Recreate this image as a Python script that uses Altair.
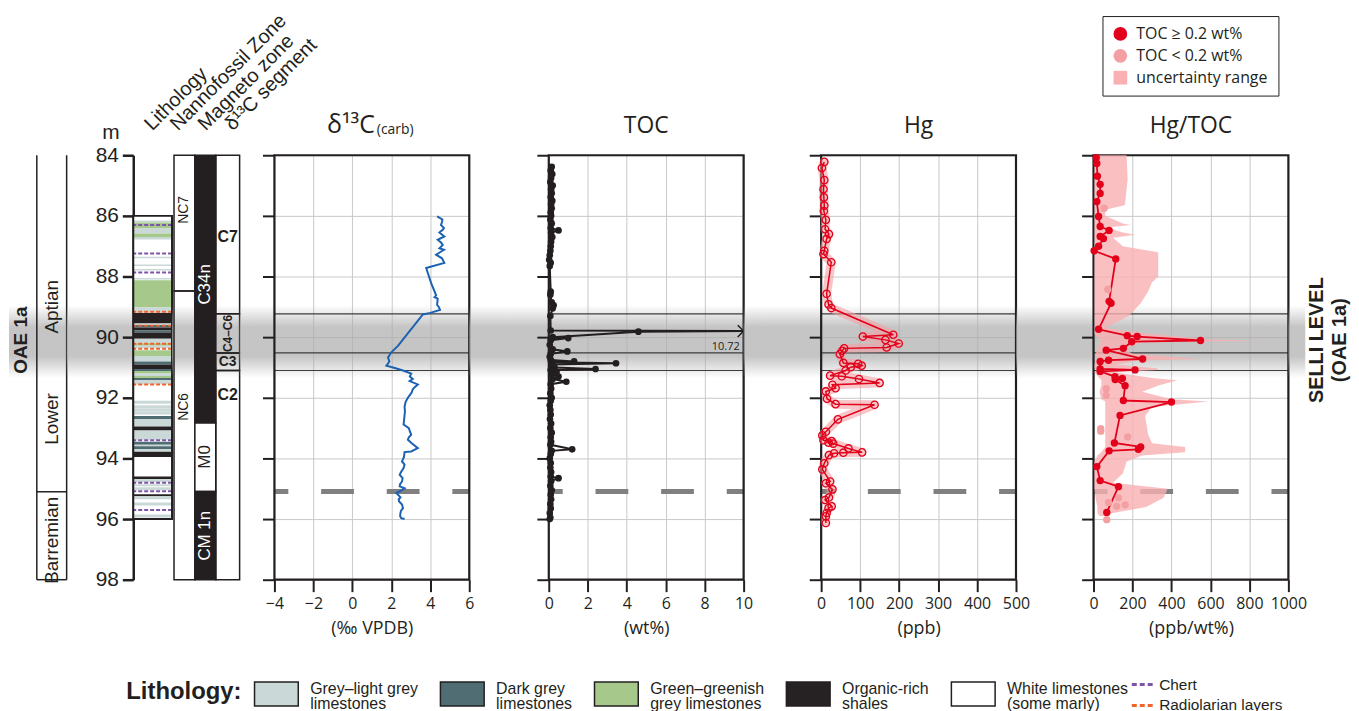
import altair as alt
import pandas as pd

# ---------------- depth frame ----------------
DEPTH_DOMAIN = [84, 98]
DEPTH_TICKS = [84, 86, 88, 90, 92, 94, 96, 98]

SELLI_BAND = [88.95, 91.35]          # grey band (Selli level, OAE 1a)
SEGMENT_LINES = [89.23, 90.52, 91.10]
DASHED_LEVEL = [95.09]
SELLI_TEXT = ["SELLI LEVEL", "(OAE 1a)"]
SELLI_TEXT_DEPTH = [90.1, 90.1]

# ---------------- stratigraphic columns ----------------
STAGE_BOUNDS = [95.1, 98.0]
STAGE_LABELS = ["Aptian", "Lower", "Barremian"]
STAGE_LABEL_DEPTH = [89.0, 92.7, 96.7]
OAE_LABEL = ["OAE 1a"]
OAE_LABEL_DEPTH = [90.1]

NANNO_TOP = [84.0, 88.48]
NANNO_BOT = [88.48, 98.0]
NANNO_NAME = ["NC7", "NC6"]
NANNO_LABEL_DEPTH = [85.8, 92.3]

MAG_TOP = [84.0, 92.83, 95.09]
MAG_BOT = [92.83, 95.09, 98.0]
MAG_NAME = ["C34n", "M0", "CM 1n"]
MAG_POLARITY = ["normal", "reversed", "normal"]
MAG_LABEL_DEPTH = [88.26, 93.95, 96.55]

SEG_TOP = [84.0, 89.23, 90.52, 91.10]
SEG_BOT = [89.23, 90.52, 91.10, 98.0]
SEG_NAME = ["C7", "C4–C6", "C3", "C2"]
SEG_LABEL_DEPTH = [86.7, 89.88, 90.81, 91.9]

HEADERS = ["Lithology", "Nannofossil Zone", "Magneto zone", "δ¹³C segment"]

LITH_NAMES = ["Grey–light grey|limestones", "Dark grey|limestones",
              "Green–greenish|grey limestones", "Organic-rich|shales",
              "White limestones|(some marly)"]
LITH_CODES = ["G", "D", "Gr", "O", "W"]
LITH_TOP = [86.00, 86.15, 86.22, 86.42, 86.58, 86.70, 87.35, 87.60, 87.75, 88.05,
            88.12, 89.02, 89.20, 89.55, 89.60, 89.68, 89.78, 89.85, 90.05, 90.20,
            90.28, 90.43, 90.62, 90.80, 90.90, 91.05, 91.12, 91.20, 91.28, 91.35,
            91.42, 92.10, 92.25, 92.35, 92.45, 92.60, 92.70, 92.95, 93.08, 93.45,
            93.55, 93.60, 93.70, 93.78, 94.60, 94.68, 94.85, 94.95, 95.18, 95.25,
            95.45, 95.85]
LITH_BOT = [96.00, 86.22, 86.42, 86.58, 86.70, 86.78, 87.40, 87.65, 87.80, 88.10,
            89.02, 89.20, 89.55, 89.60, 89.68, 89.78, 89.85, 90.05, 90.20, 90.28,
            90.36, 90.62, 90.80, 90.90, 91.05, 91.12, 91.20, 91.28, 91.35, 91.42,
            91.55, 92.20, 92.35, 92.45, 92.55, 92.70, 92.95, 93.08, 93.38, 93.55,
            93.60, 93.70, 93.78, 93.95, 94.68, 94.78, 94.92, 95.05, 95.25, 95.35,
            95.55, 95.95]
LITH_TYPE = ["W", "G", "Gr", "G", "Gr", "G", "G", "G", "G", "G",
             "Gr", "G", "O", "G", "D", "O", "D", "O", "G", "Gr",
             "G", "Gr", "G", "D", "O", "D", "Gr", "G", "Gr", "D",
             "G", "G", "G", "G", "G", "D", "G", "O", "G", "D",
             "G", "D", "G", "O", "O", "G", "G", "G", "O", "G",
             "G", "G"]
LAYER_KINDS = ["Chert", "Radiolarian layers"]
LAYER_DEPTH = [86.30, 87.24, 87.87, 89.16, 89.62, 90.22, 90.38, 91.56, 93.40, 94.80, 95.08, 95.70]
LAYER_KIND = ["Chert", "Chert", "Chert", "Radiolarian layers", "Radiolarian layers",
              "Radiolarian layers", "Radiolarian layers", "Radiolarian layers",
              "Chert", "Chert", "Chert", "Chert"]

# ---------------- geochemistry ----------------
D13C_DEPTH = [86.02, 86.12, 86.20, 86.30, 86.40, 86.46, 86.55, 86.68, 86.79, 86.88,
              86.96, 87.07, 87.12, 87.20, 87.28, 87.40, 87.55, 87.72, 88.21, 88.62,
              88.68, 88.73, 88.93, 89.02, 89.10, 89.20, 89.25, 90.29, 90.50, 90.67,
              90.80, 90.90, 90.94, 91.00, 91.10, 91.20, 91.30, 91.38, 91.45, 91.56,
              91.65, 91.72, 91.82, 91.92, 92.00, 92.14, 92.30, 92.45, 92.57, 92.70,
              92.88, 93.00, 93.10, 93.22, 93.30, 93.38, 93.50, 93.66, 93.77, 93.79,
              93.95, 94.10, 94.20, 94.32, 94.45, 94.54, 94.65, 94.76, 94.85, 94.92,
              94.98, 95.06, 95.14, 95.28, 95.35, 95.42, 95.52, 95.64, 95.72, 95.80,
              95.90, 95.97, 96.00]
D13C_VALUE = [4.35, 4.62, 4.60, 4.55, 4.70, 4.64, 4.47, 4.72, 4.38, 4.55,
              4.64, 4.47, 4.70, 4.50, 4.30, 4.60, 4.72, 3.79, 4.04, 4.30,
              4.22, 4.38, 4.35, 4.45, 4.50, 4.00, 3.62, 2.34, 2.00, 1.83,
              1.90, 1.80, 1.75, 2.09, 2.60, 3.02, 2.95, 3.10, 2.94, 3.36,
              3.20, 3.10, 3.05, 2.94, 2.85, 2.73, 2.68, 2.70, 2.68, 2.66,
              2.63, 2.90, 2.95, 3.02, 2.90, 2.85, 3.05, 3.36, 3.02, 2.68,
              2.65, 2.55, 2.68, 2.63, 2.50, 2.43, 2.58, 2.55, 2.45, 2.43,
              2.68, 2.50, 2.26, 2.47, 2.38, 2.40, 2.55, 2.60, 2.50, 2.47,
              2.45, 2.51, 2.68]

TOC_DEPTH = [84.38, 84.50, 84.62, 84.75, 84.88, 85.00, 85.12, 85.25, 85.38, 85.50,
             85.62, 85.75, 85.88, 86.00, 86.12, 86.25, 86.40, 86.48, 86.55, 86.70,
             86.85, 87.00, 87.15, 87.30, 87.45, 87.55, 87.65, 88.50, 88.60, 88.85,
             88.95, 89.05, 89.30, 89.78, 89.80, 89.82, 90.00, 90.03, 90.10, 90.25,
             90.40, 90.47, 90.55, 90.65, 90.75, 90.80, 90.83, 90.86, 90.90, 91.00,
             91.05, 91.08, 91.15, 91.22, 91.30, 91.38, 91.47, 91.55, 91.70, 91.85,
             92.00, 92.10, 92.25, 92.40, 92.55, 92.70, 92.85, 93.00, 93.15, 93.30,
             93.45, 93.55, 93.70, 93.75, 93.85, 94.00, 94.15, 94.30, 94.45, 94.60,
             94.65, 94.75, 94.90, 95.05, 95.20, 95.35, 95.50, 95.65, 95.80, 95.95,
             96.00]
TOC_VALUE = [0.15, 0.10, 0.18, 0.12, 0.08, 0.20, 0.12, 0.15, 0.10, 0.18,
             0.12, 0.15, 0.10, 0.12, 0.08, 0.15, 0.10, 0.50, 0.12, 0.18,
             0.12, 0.10, 0.08, 0.05, 0.02, 0.10, 0.05, 0.10, 0.08, 0.15,
             0.25, 0.20, 0.08, 0.10, 10.72, 4.60, 0.20, 1.00, 0.10, 0.05,
             0.20, 0.95, 0.10, 0.05, 0.10, 1.30, 0.20, 3.45, 0.15, 0.30,
             2.40, 0.10, 0.40, 0.15, 0.50, 0.20, 0.90, 0.10, 0.12, 0.08,
             0.15, 0.10, 0.05, 0.08, 0.10, 0.06, 0.12, 0.08, 0.15, 0.10,
             0.12, 0.08, 1.20, 0.15, 0.10, 0.05, 0.10, 0.08, 0.12, 0.10,
             0.50, 0.12, 0.08, 0.15, 0.10, 0.12, 0.08, 0.10, 0.05, 0.08,
             0.05]

HG_DEPTH = [84.22, 84.42, 84.82, 85.12, 85.39, 85.66, 85.84, 86.13, 86.44, 86.60,
            86.76, 87.15, 87.26, 87.53, 88.57, 88.92, 89.04, 89.92, 89.98, 90.09,
            90.21, 90.34, 90.37, 90.45, 90.56, 90.85, 90.88, 90.94, 90.99, 91.10,
            91.27, 91.29, 91.38, 91.51, 91.57, 91.68, 91.79, 92.03, 92.21, 92.23,
            92.71, 93.12, 93.24, 93.40, 93.43, 93.48, 93.51, 93.67, 93.80, 93.81,
            93.83, 93.89, 94.16, 94.36, 94.76, 94.82, 95.02, 95.29, 95.37, 95.58,
            95.64, 95.80, 95.91, 96.13]
HG_VALUE = [8, 2, 8, 6, 7, 8, 7, 12, 10, 20,
            14, 8, 6, 26, 14, 19, 26, 185, 107, 165,
            199, 168, 59, 54, 48, 57, 95, 104, 76, 63,
            23, 53, 97, 150, 29, 37, 12, 15, 37, 137,
            43, 12, 3, 6, 27, 19, 31, 70, 105, 57,
            33, 20, 8, 3, 23, 12, 29, 20, 10, 27,
            19, 14, 12, 12]

HGTOC_CLASSES = ["TOC ≥ 0.2 wt%", "TOC < 0.2 wt%", "uncertainty range"]
HGTOC_DEPTH = [84.08, 84.27, 84.69, 84.96, 85.26, 85.53, 86.02, 86.35, 86.48, 86.68,
               86.75, 87.00, 87.15, 87.42, 88.82, 88.88, 89.74, 89.95, 89.98, 90.11,
               90.15, 90.37, 90.43, 90.72, 90.76, 90.80, 91.05, 91.08, 91.13, 91.30,
               91.36, 91.40, 91.60, 92.09, 92.14, 92.58, 93.49, 93.62, 93.70, 93.75,
               94.27, 94.73, 94.93, 95.78]
HGTOC_VALUE = [14, 17, 20, 34, 34, 17, 26, 34, 80, 34,
               51, 26, 3, 114, 80, 90, 26, 173, 224, 549,
               196, 153, 65, 252, 77, 34, 34, 213, 34, 110,
               148, 111, 162, 153, 400, 136, 107, 242, 230, 80,
               17, 34, 128, 68]
HGTOC_LOWTOC_DEPTH = [85.75, 88.43, 91.70, 91.92, 93.02, 93.10, 93.29, 95.30, 95.45, 95.53, 95.58, 96.02]
HGTOC_LOWTOC_VALUE = [54, 73, 65, 65, 37, 37, 175, 128, 77, 162, 119, 68]

UNC_DEPTH = [84.0, 84.8, 85.4, 85.65, 85.8, 86.0, 86.25, 86.3, 86.38, 86.55,
             86.62, 86.72, 87.0, 87.2, 88.0, 88.2, 88.5, 88.9, 89.3, 89.7,
             89.9, 90.08, 90.11, 90.18, 90.4, 90.55, 90.72, 90.78, 90.9, 91.03,
             91.08, 91.15, 91.35, 91.42, 91.6, 91.8, 92.05, 92.12, 92.3, 92.6,
             93.2, 93.5, 93.62, 93.8, 93.9, 94.1, 94.5, 94.8, 95.0, 95.3,
             95.6, 95.8, 95.9]
UNC_LO = [5, 5, 5, 5, 5, 5, 5, 5, 5, 5,
          5, 5, 5, 5, 5, 5, 5, 5, 5, 5,
          5, 30, 40, 30, 20, 10, 20, 10, 5, 5,
          20, 5, 30, 40, 40, 30, 40, 60, 60, 60,
          60, 60, 60, 40, 20, 5, 5, 5, 5, 10,
          20, 20, 30]
UNC_HI = [170, 175, 165, 160, 60, 60, 150, 190, 70, 150,
          215, 100, 150, 332, 332, 300, 280, 240, 180, 60,
          300, 600, 850, 250, 160, 200, 550, 220, 120, 330,
          330, 100, 300, 430, 330, 250, 400, 590, 300, 265,
          280, 300, 470, 470, 250, 170, 150, 100, 380, 360,
          270, 100, 60]

PANEL_TITLES = ["δ¹³C", "(carb)", "TOC", "Hg", "Hg/TOC"]
X_TITLES = ["(‰ VPDB)", "(wt%)", "(ppb)", "(ppb/wt%)"]

# ---------------- styles ----------------
INK = "#231f20"
GRID = "#c9c9c9"
BLUE = "#1b62b3"
RED = "#e2001a"
PINK = "#f4a0a3"
AREA_PINK = "#f9b0b2"
DASH_GREY = "#808080"
CHERT = "#7d55a8"
RADIO = "#f0632a"
LITH_COLORS = ["#cad8d7", "#4f6d72", "#a6c98b", "#262223", "#ffffff"]
FONT = "Open Sans"
HELV = "Liberation Sans"
H = 427
PW = 196

yscale = alt.Scale(domain=DEPTH_DOMAIN, reverse=True, nice=False, zero=False)


def Y(field, axis=None):
    return alt.Y(f"{field}:Q", scale=yscale, axis=axis)


BAND_FILL = alt.LinearGradient(
    gradient="linear", x1=0, x2=0, y1=0, y2=1,
    stops=[alt.GradientStop(offset=0, color="rgba(172,172,172,0)"),
           alt.GradientStop(offset=0.3, color="rgba(172,172,172,0.7)"),
           alt.GradientStop(offset=0.7, color="rgba(172,172,172,0.7)"),
           alt.GradientStop(offset=1, color="rgba(172,172,172,0)")])
band_df = pd.DataFrame({"top": [SELLI_BAND[0]], "bot": [SELLI_BAND[1]]})
frame_df = pd.DataFrame({"top": [DEPTH_DOMAIN[0]], "bot": [DEPTH_DOMAIN[1]]})


def band(axis=None):
    return alt.Chart(band_df).mark_rect(fill=BAND_FILL).encode(y=Y("top", axis), y2="bot:Q")


def gap(w):
    return band().properties(width=w, height=H)


def text_df(labels, depths):
    return pd.DataFrame({"label": labels, "depth": depths})


# ---------- left: OAE label + stage column ----------
v_oae = alt.layer(
    band(),
    alt.Chart(text_df(OAE_LABEL, OAE_LABEL_DEPTH)).mark_text(
        angle=270, font=HELV, fontSize=19, fontWeight="bold", color=INK
    ).encode(x=alt.value(12), y=Y("depth"), text="label:N"),
).properties(width=28, height=H)

col_df = pd.DataFrame({"top": [DEPTH_DOMAIN[0]], "bot": [DEPTH_DOMAIN[1]]})
v_stage = alt.layer(
    band(),
    alt.Chart(col_df).mark_rule(color=INK, strokeWidth=1.5).encode(x=alt.value(0), y=Y("top"), y2="bot:Q"),
    alt.Chart(col_df).mark_rule(color=INK, strokeWidth=1.5).encode(x=alt.value(30), y=Y("top"), y2="bot:Q"),
    alt.Chart(pd.DataFrame({"depth": STAGE_BOUNDS})).mark_rule(color=INK, strokeWidth=1.5).encode(y=Y("depth")),
    alt.Chart(text_df(STAGE_LABELS, STAGE_LABEL_DEPTH)).mark_text(
        angle=270, font=HELV, fontSize=19, color=INK
    ).encode(x=alt.value(15), y=Y("depth"), text="label:N"),
).properties(width=30, height=H)

# ---------- lithology column ----------
code2name = dict(zip(LITH_CODES, LITH_NAMES))
lith_df = pd.DataFrame({"top": LITH_TOP, "bot": LITH_BOT,
                        "lith": [code2name[c] for c in LITH_TYPE]})
layer_df = pd.DataFrame({"depth": LAYER_DEPTH, "kind": LAYER_KIND})
lith_outline = pd.DataFrame({"top": [min(LITH_TOP)], "bot": [max(LITH_BOT)]})

depth_axis = alt.Axis(values=DEPTH_TICKS, title="m", titleAngle=0, titleX=-23, titleY=-17,
                      titleAlign="center", titleBaseline="alphabetic", titleFont=HELV,
                      titleFontSize=21, titleFontWeight="normal", titleColor=INK,
                      labelFont=HELV, labelFontSize=21, labelColor=INK, labelPadding=4,
                      tickSize=11, tickWidth=2.5, tickColor=INK, domainColor=INK,
                      domainWidth=2.5, grid=False)

lith_legend = alt.Legend(
    orient="none", legendX=-7, legendY=519, direction="horizontal",
    title="Lithology:", titleOrient="left", titleAnchor="middle", titleBaseline="middle",
    titleFont=HELV, titleFontSize=24, titleFontWeight="bold", titleColor=INK, titlePadding=12,
    labelFont=HELV, labelFontSize=16, labelColor=INK, labelExpr="split(datum.label, '|')",
    labelBaseline="alphabetic", labelLimit=300, labelOffset=11,
    symbolType="M-1,-0.545H1V0.545H-1Z", symbolSize=1936,
    symbolStrokeColor=INK, symbolStrokeWidth=1.5, symbolOpacity=1, columnPadding=19, padding=0)
layer_legend = alt.Legend(
    orient="none", legendX=1003, legendY=520, direction="vertical", title=None,
    labelFont=HELV, labelFontSize=15.5, labelColor=INK, labelOffset=4, rowPadding=-10,
    symbolType="stroke", symbolSize=484, symbolDash=[5, 3], symbolStrokeWidth=3, padding=0)

header_style = dict(angle=315, align="left", baseline="alphabetic", font=HELV, fontSize=20, color=INK)


def header(i, xoff):
    return alt.Chart(pd.DataFrame({"label": [HEADERS[i]]})).mark_text(**header_style).encode(
        x=alt.value(xoff), y=alt.value(-24), text="label:N")


v_lith = alt.layer(
    alt.Chart(lith_df).mark_rect().encode(
        y=Y("top", depth_axis), y2="bot:Q",
        color=alt.Color("lith:N", scale=alt.Scale(domain=LITH_NAMES, range=LITH_COLORS), legend=lith_legend)),
    alt.Chart(layer_df).mark_rule(strokeDash=[4, 2], strokeWidth=2).encode(
        y=Y("depth", depth_axis),
        stroke=alt.Stroke("kind:N", scale=alt.Scale(domain=LAYER_KINDS, range=[CHERT, RADIO]), legend=layer_legend)),
    alt.Chart(lith_outline).mark_rect(filled=False, stroke=INK, strokeWidth=2).encode(y=Y("top", depth_axis), y2="bot:Q"),
    header(0, 19),
).properties(width=39, height=H)

# ---------- nannofossil, magneto, segment columns ----------
nanno_df = pd.DataFrame({"top": NANNO_TOP, "bot": NANNO_BOT})
v_nanno = alt.layer(
    band(),
    alt.Chart(nanno_df).mark_rect(filled=False, stroke=INK, strokeWidth=1.5).encode(y=Y("top"), y2="bot:Q"),
    alt.Chart(text_df(NANNO_NAME, NANNO_LABEL_DEPTH)).mark_text(angle=270, font=HELV, fontSize=14, color=INK).encode(
        x=alt.value(10.5), y=Y("depth"), text="label:N"),
    header(1, 4),
).properties(width=21, height=H)

POL_FILL = {"normal": INK, "reversed": "#ffffff"}
POL_TEXT = {"normal": "#ffffff", "reversed": INK}
mag_df = pd.DataFrame({"top": MAG_TOP, "bot": MAG_BOT,
                       "fillc": [POL_FILL[p] for p in MAG_POLARITY]})
mag_lbl = text_df(MAG_NAME, MAG_LABEL_DEPTH)
mag_lbl["textc"] = [POL_TEXT[p] for p in MAG_POLARITY]
v_mag = alt.layer(
    band(),
    alt.Chart(mag_df).mark_rect(stroke=INK, strokeWidth=1.5).encode(
        y=Y("top"), y2="bot:Q", fill=alt.Fill("fillc:N", scale=None)),
    alt.Chart(mag_lbl).mark_text(angle=270, font=HELV, fontSize=17).encode(
        x=alt.value(10.5), y=Y("depth"), text="label:N", color=alt.Color("textc:N", scale=None)),
    header(2, 11),
).properties(width=21, height=H)

SEG_FONT = [16, 12, 14, 16]
SEG_ANGLE = [0, 270, 0, 0]
seg_df = pd.DataFrame({"top": SEG_TOP, "bot": SEG_BOT})
seg_text_layers = []
for i in range(len(SEG_NAME)):
    seg_text_layers.append(
        alt.Chart(text_df([SEG_NAME[i]], [SEG_LABEL_DEPTH[i]])).mark_text(
            angle=SEG_ANGLE[i], font=HELV, fontSize=SEG_FONT[i], fontWeight="bold", color=INK
        ).encode(x=alt.value(12), y=Y("depth"), text="label:N"))
v_seg = alt.layer(
    band(),
    alt.Chart(seg_df).mark_rect(filled=False, stroke=INK, strokeWidth=1.5).encode(y=Y("top"), y2="bot:Q"),
    *seg_text_layers,
    header(3, 17),
).properties(width=24, height=H)

# ---------- data panels ----------
YAX = alt.Axis(values=DEPTH_TICKS, labels=False, title=None, domain=False, ticks=True,
               tickSize=12, tickWidth=2, tickColor=INK, grid=True, gridColor=GRID, gridWidth=1)


def xaxis(values, title):
    return alt.Axis(values=values, title=title, format="d", grid=True, gridColor=GRID, gridWidth=1,
                    domain=False, ticks=True, tickSize=12, tickWidth=2, tickColor=INK,
                    labelFont=FONT, labelFontSize=16, labelColor=INK, labelPadding=4,
                    labelOverlap=False, labelFlush=False, titleFont=FONT, titleFontSize=18,
                    titleFontWeight="normal", titleColor=INK, titlePadding=8)


def panel_base():
    return [
        band(YAX),
        alt.Chart(pd.DataFrame({"depth": SEGMENT_LINES})).mark_rule(color="#3d3d3d", strokeWidth=1.2).encode(y=Y("depth", YAX)),
        alt.Chart(pd.DataFrame({"depth": DASHED_LEVEL})).mark_rule(
            color=DASH_GREY, strokeWidth=5, strokeDash=[33, 33], strokeDashOffset=16).encode(y=Y("depth", YAX)),
        alt.Chart(frame_df).mark_rect(filled=False, stroke=INK, strokeWidth=2.2).encode(y=Y("top", YAX), y2="bot:Q"),
    ]


def ptitle(t):
    return alt.Chart(pd.DataFrame({"t": [t]})).mark_text(
        align="center", baseline="alphabetic", font=FONT, fontSize=23, color=INK
    ).encode(x=alt.value(PW / 2), y=alt.value(-22), text="t:N")


# δ13C
d13c_df = pd.DataFrame({"depth": D13C_DEPTH, "d13c": D13C_VALUE})
X_D13C = alt.X("d13c:Q", scale=alt.Scale(domain=[-4, 6], nice=False, zero=False),
               axis=xaxis([-4, -2, 0, 2, 4, 6], X_TITLES[0]))
v_d13c = alt.layer(
    *panel_base(),
    alt.Chart(d13c_df).mark_line(color=BLUE, strokeWidth=2).encode(x=X_D13C, y=Y("depth", YAX), order="depth:Q"),
    alt.Chart(pd.DataFrame({"t": [PANEL_TITLES[0]]})).mark_text(
        align="right", baseline="alphabetic", font=FONT, fontSize=25, color=INK
    ).encode(x=alt.value(101), y=alt.value(-22), text="t:N"),
    alt.Chart(pd.DataFrame({"t": [PANEL_TITLES[1]]})).mark_text(
        align="left", baseline="alphabetic", font=FONT, fontSize=14, color=INK
    ).encode(x=alt.value(103), y=alt.value(-21), text="t:N"),
).properties(width=PW, height=H)

# TOC
toc_df = pd.DataFrame({"depth": TOC_DEPTH, "toc": TOC_VALUE})
TOC_SCALE = alt.Scale(domain=[0, 10], nice=False, zero=False, clamp=True)
TOC_AXIS = xaxis([0, 2, 4, 6, 8, 10], X_TITLES[1])
X_TOC = alt.X("toc:Q", scale=TOC_SCALE, axis=TOC_AXIS)
v_toc = alt.layer(
    *panel_base(),
    alt.Chart(toc_df).mark_line(color=INK, strokeWidth=2).encode(x=X_TOC, y=Y("depth", YAX), order="depth:Q"),
    alt.Chart(toc_df).transform_filter("datum.toc <= 10").mark_circle(size=45, color=INK, opacity=1).encode(
        x=X_TOC, y=Y("depth", YAX)),
    alt.Chart(toc_df).transform_filter("datum.toc > 10").mark_point(
        shape="M-1,-1L0,0L-1,1", filled=False, size=140, strokeWidth=1.5, color=INK, dx=-5, opacity=1
    ).encode(x=X_TOC, y=Y("depth", YAX)),
    alt.Chart(toc_df).transform_filter("datum.toc > 10").mark_text(
        align="right", font=FONT, fontSize=11, color=INK, dx=-4, dy=16
    ).encode(x=X_TOC, y=Y("depth", YAX), text=alt.Text("toc:Q", format=".2f")),
    ptitle(PANEL_TITLES[2]),
).properties(width=PW, height=H)

# Hg
hg_df = pd.DataFrame({"depth": HG_DEPTH, "hg": HG_VALUE})
X_HG = alt.X("hg:Q", scale=alt.Scale(domain=[0, 500], nice=False, zero=False),
             axis=xaxis([0, 100, 200, 300, 400, 500], X_TITLES[2]))
v_hg = alt.layer(
    *panel_base(),
    alt.Chart(hg_df).mark_line(color=PINK, strokeWidth=9, opacity=0.6, strokeCap="round", strokeJoin="round").encode(
        x=X_HG, y=Y("depth", YAX), order="depth:Q"),
    alt.Chart(hg_df).mark_line(color=RED, strokeWidth=1.5).encode(x=X_HG, y=Y("depth", YAX), order="depth:Q"),
    alt.Chart(hg_df).mark_point(shape="circle", filled=False, color=RED, size=55, strokeWidth=1.3, opacity=1).encode(
        x=X_HG, y=Y("depth", YAX)),
    ptitle(PANEL_TITLES[3]),
).properties(width=PW, height=H)

# Hg/TOC
HGTOC_SCALE = alt.Scale(domain=[0, 1000], nice=False, zero=False)
HGTOC_AXIS = xaxis([0, 200, 400, 600, 800, 1000], X_TITLES[3])


def X_HT(field):
    return alt.X(f"{field}:Q", scale=HGTOC_SCALE, axis=HGTOC_AXIS)


unc_df = pd.DataFrame({"depth": UNC_DEPTH, "lo": UNC_LO, "hi": UNC_HI})
hgtoc_df = pd.DataFrame({"depth": HGTOC_DEPTH, "v": HGTOC_VALUE, "cls": HGTOC_CLASSES[0]})
low_df = pd.DataFrame({"depth": HGTOC_LOWTOC_DEPTH, "v": HGTOC_LOWTOC_VALUE, "cls": HGTOC_CLASSES[1]})
pts_df = pd.concat([low_df, hgtoc_df], ignore_index=True)
hgtoc_legend = alt.Legend(orient="none", legendX=9, legendY=-140, title=None, strokeColor=INK,
                          fillColor="white", padding=10, labelFont=FONT, labelFontSize=16,
                          labelColor=INK, labelOffset=8, rowPadding=6, symbolSize=190,
                          symbolStrokeWidth=0, symbolOpacity=1)
v_hgtoc = alt.layer(
    *panel_base(),
    alt.Chart(unc_df).mark_area(orient="horizontal", color=AREA_PINK, opacity=0.8).encode(
        x=X_HT("lo"), x2="hi:Q", y=Y("depth", YAX)),
    alt.Chart(hgtoc_df).mark_line(color=RED, strokeWidth=1.8).encode(x=X_HT("v"), y=Y("depth", YAX), order="depth:Q"),
    alt.Chart(pts_df).mark_point(filled=True, size=55, opacity=1).encode(
        x=X_HT("v"), y=Y("depth", YAX),
        color=alt.Color("cls:N", scale=alt.Scale(domain=HGTOC_CLASSES, range=[RED, PINK, AREA_PINK]), legend=hgtoc_legend),
        shape=alt.Shape("cls:N", scale=alt.Scale(domain=HGTOC_CLASSES, range=["circle", "circle", "square"]), legend=hgtoc_legend)),
    ptitle(PANEL_TITLES[4]),
).properties(width=PW, height=H)

# right label
v_selli = alt.layer(
    alt.Chart(text_df([SELLI_TEXT[0]], [SELLI_TEXT_DEPTH[0]])).mark_text(
        angle=270, font=HELV, fontSize=20, fontWeight="bold", color=INK).encode(x=alt.value(12), y=Y("depth"), text="label:N"),
    alt.Chart(text_df([SELLI_TEXT[1]], [SELLI_TEXT_DEPTH[1]])).mark_text(
        angle=270, font=HELV, fontSize=20, fontWeight="bold", color=INK).encode(x=alt.value(35), y=Y("depth"), text="label:N"),
).properties(width=36, height=H)

chart = alt.hconcat(
    v_oae, v_stage, gap(67), v_lith, gap(2), v_nanno, v_mag, v_seg, gap(35),
    v_d13c, gap(80), v_toc, gap(78), v_hg, gap(78), v_hgtoc, gap(17), v_selli,
    spacing=0, bounds="flush",
).resolve_scale(
    x="independent", color="independent", shape="independent", stroke="independent", fill="independent"
).resolve_axis(x="independent", y="independent").resolve_legend(
    color="independent", shape="independent", stroke="independent", fill="independent"
).properties(
    padding={"left": 0, "top": 0, "right": 0, "bottom": 0}, background="white"
).configure(
    style={"guide-label": {"lineHeight": 15}}
).configure_view(stroke="transparent")

chart.save("out.html", embed_options={"renderer": "svg", "actions": False})
